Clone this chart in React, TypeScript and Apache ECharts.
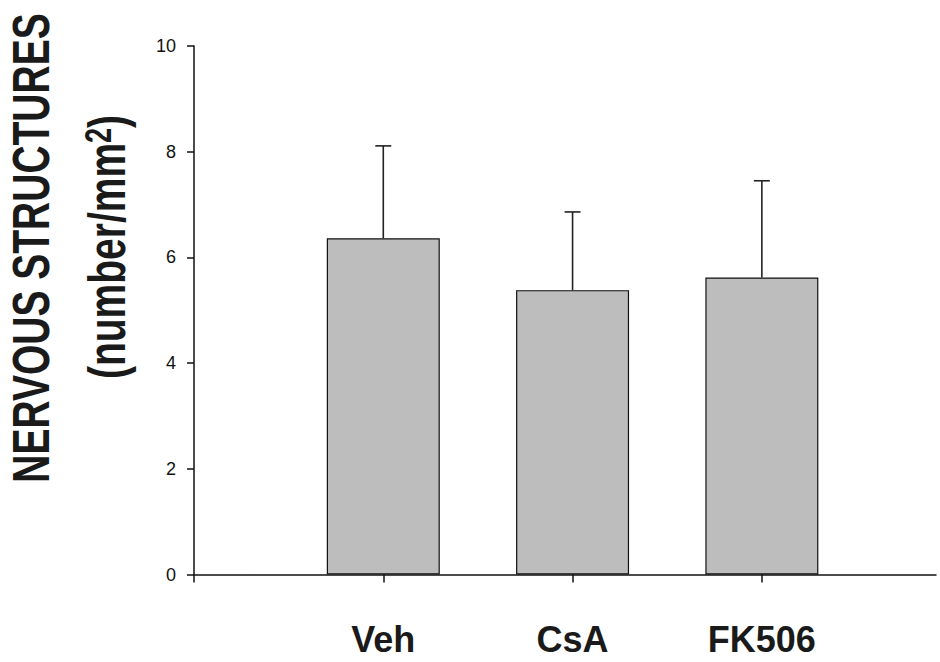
import React, { useEffect, useRef } from "react";
import * as echarts from "echarts";

const categories = ["Veh", "CsA", "FK506"];
const positions = [1, 2, 3];
const means = [6.36, 5.38, 5.62];
const sds = [1.75, 1.48, 1.83];
const yTicks = [0, 2, 4, 6, 8, 10];

export default function App() {
  const ref = useRef<HTMLDivElement>(null);
  useEffect(() => {
    if (!ref.current) return;
    const chart = echarts.init(ref.current, null, { renderer: "svg" });
    const barData = positions.map((p, i) => [p, means[i]]);
    const errData = positions.map((p, i) => [p, means[i], means[i] + sds[i]]);
    chart.setOption({
      animation: false,
      backgroundColor: "#ffffff",
      grid: { left: 194, right: 4, top: 46, bottom: 87.5 },
      xAxis: {
        type: "value",
        min: 0,
        max: 3.92,
        splitLine: { show: false },
        axisLine: { show: true, onZero: false, lineStyle: { color: "#111", width: 1.5 } },
        axisTick: {
          show: true,
          customValues: [0, ...positions],
          length: 8,
          lineStyle: { color: "#111", width: 1.5 },
        },
        axisLabel: {
          show: true,
          customValues: positions,
          formatter: (v: number) => categories[positions.indexOf(Math.round(v))] ?? "",
          fontFamily: '"Liberation Sans", Arial, sans-serif',
          fontWeight: "bold",
          fontSize: 36,
          lineHeight: 36,
          color: "#1a1a1a",
          margin: 47,
        },
      },
      yAxis: {
        type: "value",
        min: 0,
        max: 10,
        interval: 2,
        splitLine: { show: false },
        axisLine: { show: true, lineStyle: { color: "#111", width: 1.5 } },
        axisTick: { show: true, length: 7, lineStyle: { color: "#111", width: 1.5 } },
        axisLabel: {
          formatter: (v: number) => (yTicks.includes(v) ? String(v) : ""),
          fontFamily: '"Liberation Sans", Arial, sans-serif',
          fontSize: 18,
          color: "#111",
          margin: 18,
        },
      },
      graphic: [
        {
          type: "text",
          x: 30.5,
          y: 248,
          rotation: Math.PI / 2,
          scaleX: 0.75,
          style: {
            text: "NERVOUS STRUCTURES",
            font: 'bold 52px "Liberation Sans", Arial, sans-serif',
            fill: "#1a1a1a",
            align: "center",
            verticalAlign: "middle",
          },
        },
        {
          type: "text",
          x: 107,
          y: 247,
          rotation: Math.PI / 2,
          scaleX: 0.75,
          style: {
            text: "(number/mm{sup|2})",
            font: 'bold 52px "Liberation Sans", Arial, sans-serif',
            fill: "#1a1a1a",
            align: "center",
            verticalAlign: "middle",
            rich: {
              sup: {
                font: 'bold 36px "Liberation Sans", Arial, sans-serif',
                fill: "#1a1a1a",
                verticalAlign: "top",
                lineHeight: 52,
                padding: [0, 0, 20, 0],
              },
            },
          },
        },
      ],
      series: [
        {
          type: "bar",
          data: barData,
          barWidth: 113,
          itemStyle: { color: "#bdbdbd", borderColor: "#111", borderWidth: 1.2 },
          z: 2,
        },
        {
          type: "custom",
          data: errData,
          z: 3,
          renderItem: (params: any, api: any) => {
            const x = api.value(0);
            const top = api.coord([x, api.value(2)]);
            const base = api.coord([x, api.value(1)]);
            const capHalf = 8;
            return {
              type: "group",
              children: [
                {
                  type: "line",
                  shape: { x1: top[0], y1: top[1], x2: base[0], y2: base[1] },
                  style: { stroke: "#222", lineWidth: 1.6 },
                },
                {
                  type: "line",
                  shape: { x1: top[0] - capHalf, y1: top[1], x2: top[0] + capHalf, y2: top[1] },
                  style: { stroke: "#222", lineWidth: 1.6 },
                },
              ],
            };
          },
        },
      ],
    });
    return () => chart.dispose();
  }, []);
  return <div ref={ref} style={{ width: 940, height: 662, position: "absolute", left: 0, top: 0 }} />;
}
